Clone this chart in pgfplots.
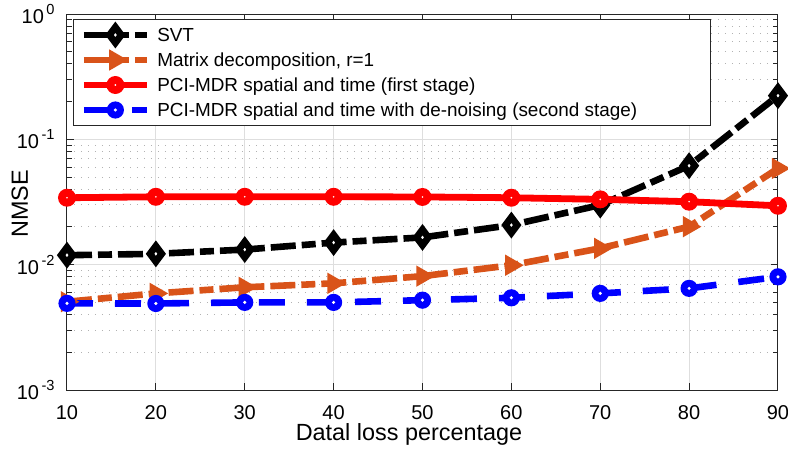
\documentclass[border=0pt]{standalone}
\usepackage{fontspec}
\setmainfont{Liberation Sans}
\usepackage{pgfplots}
\pgfplotsset{compat=1.18}

\definecolor{axgray}{rgb}{0.15,0.15,0.15}
\definecolor{gridmaj}{rgb}{0.87,0.87,0.87}
\definecolor{gridmin}{rgb}{0.70,0.70,0.70}
\definecolor{mlorange}{rgb}{0.85,0.325,0.098}

% power-of-ten tick label with a raised exponent
\newcommand{\pten}[1]{10\raisebox{4.5pt}{\fontsize{7.3pt}{8pt}\selectfont\hspace{1.3pt}#1}}

% solid disc with a small white centre (heavy-edged circle marker)
\pgfdeclareplotmark{ringR}{%
  \pgfpathcircle{\pgfpointorigin}{\pgfplotmarksize}\pgfusepath{fill}%
  \begin{pgfscope}\pgfsetfillcolor{white}%
  \pgfpathcircle{\pgfpointorigin}{0.1\pgfplotmarksize}\pgfusepath{fill}%
  \end{pgfscope}}
\pgfdeclareplotmark{ringB}{%
  \pgfpathcircle{\pgfpointorigin}{\pgfplotmarksize}\pgfusepath{fill}%
  \begin{pgfscope}\pgfsetfillcolor{white}%
  \pgfpathcircle{\pgfpointorigin}{0.2\pgfplotmarksize}\pgfusepath{fill}%
  \end{pgfscope}}

\begin{document}
\begin{tikzpicture}
\begin{axis}[
  scale only axis, width=355.5pt, height=188pt,
  ymode=log, xmin=10, xmax=90, ymin=1e-3, ymax=1,
  clip=false,
  xtick={10,20,...,90},
  ytick={1e-3,1e-2,1e-1,1},
  yticklabels={\pten{-3},\pten{-2},\pten{-1},\pten{0}},
  minor ytick={2e-3,3e-3,4e-3,5e-3,6e-3,7e-3,8e-3,9e-3,
               2e-2,3e-2,4e-2,5e-2,6e-2,7e-2,8e-2,9e-2,
               2e-1,3e-1,4e-1,5e-1,6e-1,7e-1,8e-1,9e-1},
  /pgf/number format/assume math mode=true,
  ticklabel style={font=\fontsize{10pt}{12pt}\selectfont, inner sep=0pt},
  xticklabel style={anchor=north, yshift=-7.5pt},
  yticklabel style={anchor=east, xshift=-6pt},
  xmajorgrids, ymajorgrids, yminorgrids,
  major grid style={gridmaj, line width=0.5pt},
  minor grid style={gridmin, line width=0.5pt, dash pattern=on 0.6pt off 2.9pt},
  axis line style={axgray, line width=0.5pt},
  tick style={axgray, line width=0.5pt},
  major tick length=3.5pt, minor tick length=2.5pt,
  xlabel={Datal loss percentage},
  ylabel={NMSE},
  label style={font=\fontsize{11.7pt}{14pt}\selectfont},
  xlabel style={at={(axis description cs:0.481,-0.1356)}, anchor=base},
  ylabel style={at={(axis description cs:-0.0549,0.495)}, anchor=base},
  legend cell align=left,
  legend image code/.code={%
    \draw[mark repeat=2, mark phase=2] plot coordinates {(0pt,0pt) (15.75pt,0pt) (31.5pt,0pt)};},
  legend style={
    at={(axis description cs:0.0084,0.9867)}, anchor=north west,
    draw=axgray, line width=0.5pt, fill=white,
    inner xsep=3.5pt, inner ysep=1.5pt,
    row sep=0pt, column sep=3.5pt,
    font=\fontsize{9.45pt}{11pt}\selectfont,
    nodes={inner xsep=0pt, inner ysep=1.65pt, text height=8pt, text depth=1.2pt, anchor=west},
  },
]

% SVT
\addplot[black, line width=3.3pt, dash pattern=on 12.5pt off 3pt on 7pt off 3pt,
  mark=diamond*, mark size=3.9pt,
  mark options={solid, fill=white, line width=3.4pt}]
  coordinates {(10,0.0119) (20,0.0122) (30,0.0132) (40,0.0150) (50,0.0165)
               (60,0.0207) (70,0.0299) (80,0.0616) (90,0.223)};
\addlegendentry{SVT}

% Matrix decomposition, r = 1
\addplot[mlorange, line width=3.3pt, dash pattern=on 12.5pt off 3pt on 7pt off 3pt,
  mark=triangle*, mark size=2.75pt,
  mark options={solid, rotate=-90, fill=white, line width=3.4pt}]
  coordinates {(10,0.00506) (20,0.0059) (30,0.0066) (40,0.0071) (50,0.0081)
               (60,0.0099) (70,0.0135) (80,0.0201) (90,0.0586)};
\addlegendentry{Matrix decomposition, r=1}

% PCI-MDR, first stage
\addplot[red, line width=3.4pt, solid,
  mark=ringR, mark size=4.5pt,
  mark options={solid, fill=red}]
  coordinates {(10,0.0342) (20,0.0348) (30,0.0348) (40,0.0348) (50,0.0347)
               (60,0.0342) (70,0.0332) (80,0.0318) (90,0.0295)};
\addlegendentry{PCI-MDR spatial and time (first stage)}

% PCI-MDR with de-noising, second stage
\addplot[blue, line width=3.3pt, dash pattern=on 13pt off 11pt,
  mark=ringB, mark size=4.3pt,
  mark options={solid, fill=blue}]
  coordinates {(10,0.00491) (20,0.0049) (30,0.0050) (40,0.0050) (50,0.00521)
               (60,0.00544) (70,0.0059) (80,0.00647) (90,0.0080)};
\addlegendentry{\makebox[273pt][l]{PCI-MDR spatial and time with de-noising (second stage)}}

\end{axis}
\pgfresetboundingbox
\path[use as bounding box] (-33.5pt,-30pt) rectangle (360.5pt,195pt);
\end{tikzpicture}
\end{document}
